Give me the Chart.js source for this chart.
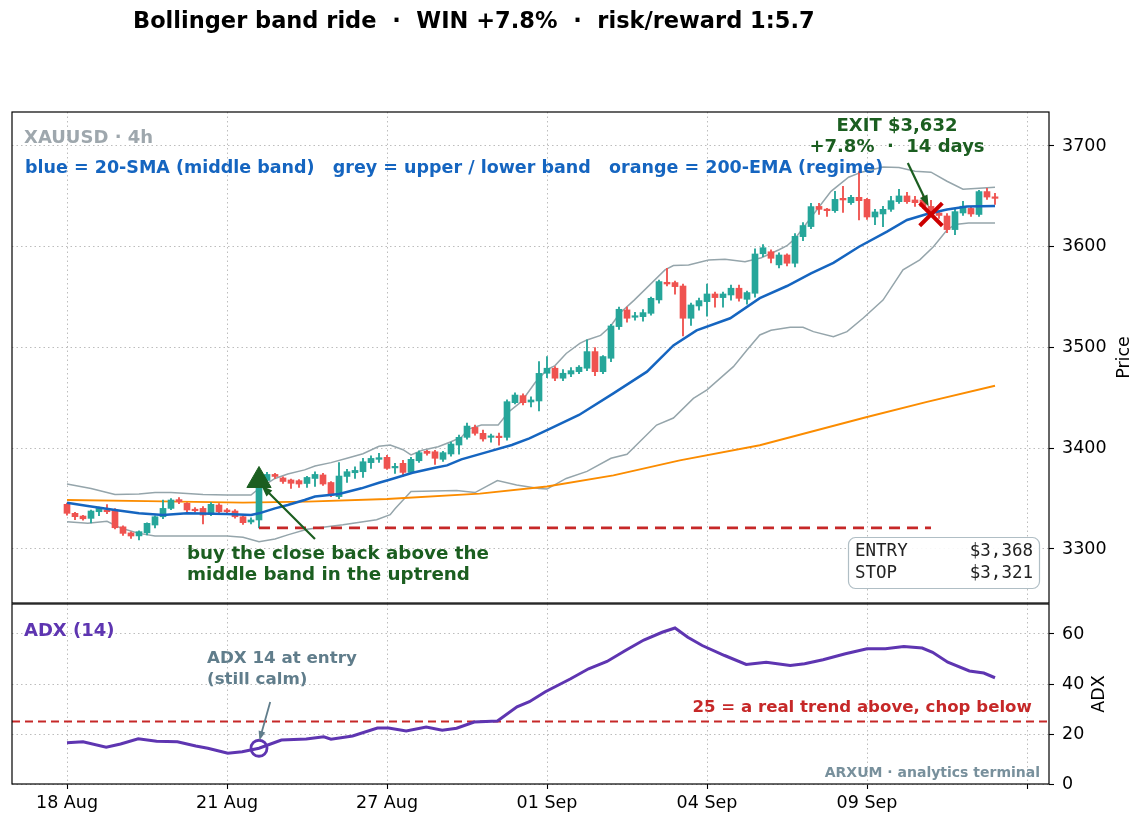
<!DOCTYPE html>
<html>
<head>
<meta charset="utf-8">
<title>Bollinger band ride</title>
<script src="https://cdn.jsdelivr.net/npm/chart.js@4.4.1/dist/chart.umd.min.js"></script>
<style>
  body { margin: 0; background: #fff; }
  #wrap { position: relative; width: 1144px; height: 826px; }
  #price { position: absolute; left: 0; top: 0; }
  #adx { position: absolute; left: 0; top: 600px; }
</style>
</head>
<body>
<div id="wrap">
  <canvas id="price" width="1144" height="604"></canvas>
  <canvas id="adx" width="1144" height="226"></canvas>
</div>
<script>
// 4h candles, index 0 = first bar on 18 Aug
const opens = [3344.3,3335.4,3332.7,3330.4,3337,3338.7,3338.7,3322,3316,3313,3316,3323.8,3332,3340.3,3349,3345.3,3339.3,3340.3,3334.4,3343.6,
  3338.7,3337.7,3332,3326.8,3328.8,3368,3374,3370.5,3368.5,3367.8,3365,3370,3373.5,3366,3352,3372,3375.7,3376.7,3385.7,3389,
  3391,3380.5,3385,3376,3387.6,3396.9,3396.5,3389,3394.3,3403.2,3410.8,3420.7,3414.8,3410.8,3411.5,3410.8,3445.2,3452.2,3445.9,3446.9,
  3474.4,3479.4,3469.5,3473.7,3476,3479.4,3495.9,3476,3489.3,3520.7,3537.3,3530,3530.6,3533.9,3547.2,3564.7,3564.4,3561,3529,3541.2,
  3545.5,3553.1,3549.5,3552.1,3558.8,3547.8,3553.8,3593,3595,3582,3591.8,3583.6,3610,3620,3640,3637.1,3635.8,3648,3643.7,3649,
  3647,3629.5,3632.5,3637.1,3644.7,3650.4,3646.4,3646.4,3640,3633.5,3630.5,3617,3633.5,3638,3632,3654.7,3649.5];
const highs = [3345.5,3336.5,3333.5,3338.5,3341.5,3344,3340,3323,3317,3318,3326,3333,3348.6,3350,3351,3346,3341,3342,3346,3345,
  3340,3339,3333,3331,3370,3376,3375,3371.5,3369.5,3369,3372,3376.7,3375,3367,3385.7,3379,3381.5,3390,3392.5,3395,
  3393,3385,3388,3391,3397.5,3398,3398,3397,3406,3413,3425,3423,3418,3414,3415,3448,3455,3454,3451,3486,
  3491,3481,3478,3480,3482,3507.5,3500,3492,3523,3540,3540,3535,3537.5,3550,3567,3578.6,3566,3563,3544,3549,
  3563,3555,3555,3562,3562,3556,3598,3602,3597,3594,3593,3613,3624,3643,3643,3638,3655,3660,3651,3674.5,
  3648,3637,3640,3650,3657,3654,3650,3652,3646,3635,3633,3637,3645,3640,3656,3658,3653];
const lows = [3333.5,3329,3328.5,3326,3333,3335,3320,3313.5,3310.5,3309,3314,3321,3330,3339,3345,3337,3336.5,3324.8,3333,3335.5,
  3336,3330.5,3324.5,3325,3321,3366,3370,3365,3360,3361,3361,3362,3363,3352,3350,3366,3370,3371,3380,3386,
  3379,3375,3372,3375,3386,3393,3384,3387,3392,3394,3409,3413,3407,3406,3403,3408,3444,3443,3441,3437,
  3470,3467,3467,3471,3474,3477,3472,3474,3486,3518,3525,3527,3526,3532,3544,3561,3553,3511.5,3522,3537,
  3531,3540,3540,3547,3546,3543,3550,3590,3584,3579,3581,3580,3606,3618,3632,3630,3634,3634,3642,3626.5,
  3627,3622,3620,3635,3643,3643,3640,3638,3630,3628,3614,3612,3631,3630,3630,3647,3642];
const closes = [3335.4,3332.1,3330,3337.7,3340.3,3337,3321.1,3315.5,3312.9,3317.2,3325.5,3332,3340.3,3348.6,3346.9,3338.7,3338,3333.7,3344.3,3337,
  3337,3332,3326.1,3328.8,3368,3374,3372,3367,3365.2,3364.5,3371,3374,3364.5,3353.6,3372.4,3376.7,3378,3386.6,3389.9,3390.6,
  3380,3382,3376,3389,3395.6,3394.9,3390,3395.6,3404.2,3410.8,3422,3414.8,3409.2,3412,3410.5,3446.2,3452.8,3445.2,3447.9,3474.3,
  3479.4,3469.5,3474.4,3477,3480.4,3495.9,3476,3491,3521.4,3537.9,3529,3531.3,3534.6,3548.8,3565.4,3563,3560.4,3529,3542.2,3546.5,
  3553.1,3549.5,3553.1,3558.8,3548.8,3554.5,3592.8,3599,3588.5,3591.8,3583.6,3610.3,3621,3639.8,3637.1,3635.8,3647,3646.4,3649,3645.7,
  3629.5,3634.5,3637.1,3645.7,3650.4,3644.7,3643.7,3640,3632,3631,3617,3634.8,3640.2,3632.5,3654.7,3649.3,3648];

// indicator lines as [bar index, value]
const upperBand = [[0,3364.5],[3,3360],[6,3354],[9,3354.6],[11,3356],[13,3356],[15,3355],[17,3354],[20,3353.6],[23,3353.6],[24,3360],
  [26,3370],[27.6,3374.5],[29.7,3378.5],[31,3382.4],[33,3385.7],[35,3390],[37,3394.5],[39,3402],[40.4,3403.2],[42,3398.5],[43,3393.3],
  [44.4,3398],[46.4,3401.5],[48,3406.5],[49.3,3411],[50.2,3419],[51.8,3423],[53.9,3423],[55.2,3436],[56.8,3446.2],[58.5,3465],[60,3478],
  [61,3482],[62.4,3494],[64.1,3504],[65,3507.5],[66.7,3512],[67.9,3520.6],[69.1,3533.9],[70.9,3547],[74.75,3577],[75.8,3581.3],[77.7,3581.9],
  [80.2,3586.9],[82.25,3587.5],[84.75,3585.2],[86.8,3589],[89,3597],[90,3601],[91,3608],[93,3629],[95.5,3655],[97.7,3669],[99.3,3674],
  [102,3679],[104,3678.5],[106,3675],[108,3674],[110,3665],[112,3657],[114,3658],[116,3659]];
const lowerBand = [[0,3327],[2.6,3325.5],[5,3327.5],[6.8,3320.5],[9,3315.5],[11,3313],[15,3313],[20,3313],[22,3311.6],[24,3307.3],
  [26,3310],[27.6,3314],[30,3319.5],[34.5,3324],[38.7,3329],[40.4,3334],[41,3340],[43,3357],[48.7,3358],[51,3356],[53.8,3368],
  [56.2,3363.5],[59,3360],[60,3359.5],[62.4,3370],[65,3377],[68,3390],[70,3394],[73.7,3423],[75.8,3430],[78.3,3449.5],[80,3458],
  [83.3,3481],[85,3497.5],[86.6,3512.4],[88,3517],[90.4,3520],[92,3520],[93.3,3515.7],[95.8,3510.7],[97.5,3515.7],[99.5,3529],
  [102,3547],[104.5,3577],[106.6,3587],[108.3,3600],[110,3616.6],[111,3622],[112.7,3623.5],[116,3623.5]];
const sma20 = [[0,3346],[2.6,3342.6],[6,3338.7],[9,3335.4],[12,3333.7],[15,3335.4],[20,3334.7],[23,3333.7],[24,3335.4],[26,3340.3],
  [27.6,3343.6],[29.7,3348.6],[31,3352],[34,3354.6],[36.8,3360.2],[39,3365.8],[40.2,3368.5],[43.2,3375.7],[46,3380.7],[47.5,3383],
  [49.3,3389],[52.7,3396.6],[55.6,3403.2],[57.8,3409.8],[60,3418],[64,3433],[68.3,3454.5],[72.5,3476],[75.8,3502],[78.7,3517],
  [82.9,3529],[86.6,3549],[90,3561],[93,3573.6],[95.8,3584],[99,3600],[102.5,3615],[105,3626.5],[107.5,3632.5],[110,3637],
  [112.5,3639.8],[116,3640.4]];
const ema200 = [[0,3348.6],[10,3347.5],[22,3346],[30,3347],[40,3349.6],[51.6,3355],[60,3362],[68.3,3373],[76.6,3388],[86.6,3403],
  [100,3431],[107.5,3446],[116,3462]];
const adx14 = [[0,16.5],[2,16.9],[4.9,14.7],[6.7,16],[8.9,18.1],[11.2,17.1],[13.8,16.9],[16.1,15.2],[17.6,14.3],[20.1,12.3],[21.9,12.9],
  [24,14.3],[26.8,17.6],[29.9,18],[32.1,18.9],[33,17.9],[35.7,19.2],[38.8,22.4],[40.2,22.4],[42.4,21.2],[44.9,22.8],[46.9,21.5],
  [48.7,22.3],[50.9,24.8],[53.8,25.2],[56.25,30.9],[57.8,32.9],[59.8,36.9],[62.9,42],[65.2,46.1],[67.5,49],[69.8,53.4],[72.1,57.6],
  [74.4,60.7],[76,62.4],[77.6,58.7],[79.4,55.4],[82.2,51.4],[84.9,47.8],[87.4,48.7],[90.4,47.4],[92.2,48.1],[94.5,49.7],[97.3,52.1],
  [100,54.1],[102.3,54.1],[104.6,55],[106.9,54.4],[108.2,52.7],[110.1,48.7],[112.8,45.2],[114.6,44.4],[116,42.5]];

const xTickIdx = [0, 20, 40, 60, 80, 100, 120];
const xTickLabels = ['18 Aug', '21 Aug', '27 Aug', '01 Sep', '04 Sep', '09 Sep', ''];
const priceTicks = [3300, 3400, 3500, 3600, 3700];
const adxTicks = [0, 20, 40, 60];

const entryIdx = 24, entryPrice = 3368, stopPrice = 3321;
const exitIdx = 108, exitPrice = 3632;
const entryAdx = 14.3, adxLevel = 25;

const X_MIN = -6.875, X_MAX = 122.75;
const GREEN = '#26a69a', RED = '#ef5350', DARK_GREEN = '#1b5e20', STOP_RED = '#c62828';
const FONT = '"DejaVu Sans", sans-serif';

const pts = arr => arr.map(([x, y]) => ({x, y}));
const candleColor = c => (closes[c.dataIndex] >= opens[c.dataIndex] ? GREEN : RED);

function arrow(ctx, x1, y1, x2, y2, color, width, head) {
  const ang = Math.atan2(y2 - y1, x2 - x1);
  ctx.save();
  ctx.strokeStyle = color; ctx.fillStyle = color; ctx.lineWidth = width;
  ctx.beginPath();
  ctx.moveTo(x1, y1);
  ctx.lineTo(x2 - Math.cos(ang) * head * 0.8, y2 - Math.sin(ang) * head * 0.8);
  ctx.stroke();
  ctx.beginPath();
  ctx.moveTo(x2, y2);
  ctx.lineTo(x2 - head * Math.cos(ang - 0.35), y2 - head * Math.sin(ang - 0.35));
  ctx.lineTo(x2 - head * Math.cos(ang + 0.35), y2 - head * Math.sin(ang + 0.35));
  ctx.closePath();
  ctx.fill();
  ctx.restore();
}

function text(ctx, s, x, y, font, color, align) {
  ctx.save();
  ctx.font = font; ctx.fillStyle = color;
  ctx.textAlign = align || 'left'; ctx.textBaseline = 'middle';
  ctx.fillText(s, x, y);
  ctx.restore();
}

function frame(ctx, a) {
  ctx.save();
  ctx.strokeStyle = '#000'; ctx.lineWidth = 1.2;
  ctx.strokeRect(a.left, a.top, a.right - a.left, a.bottom - a.top);
  ctx.restore();
}

function vertLabel(ctx, s, x, y) {
  ctx.save();
  ctx.translate(x, y); ctx.rotate(-Math.PI / 2);
  text(ctx, s, 0, 0, '17.5px ' + FONT, '#000', 'center');
  ctx.restore();
}

const noPad = s => { s.paddingTop = 0; s.paddingBottom = 0; s.paddingLeft = 0; s.paddingRight = 0; };
const gridStyle = {color: '#b5b5b5', lineWidth: 0.9, tickColor: '#000', tickLength: 5, tickWidth: 1.1};

const priceNotes = {
  id: 'priceNotes',
  afterDraw(chart) {
    const {ctx, chartArea: a, scales: {x, y}} = chart;
    frame(ctx, a);
    text(ctx, 'Bollinger band ride  \u00b7  WIN +7.8%  \u00b7  risk/reward 1:5.7', 133, 22, 'bold 22.5px ' + FONT, '#000');
    text(ctx, 'XAUUSD \u00b7 4h', a.left + 12, a.top + 26, 'bold 18px ' + FONT, '#9ea7ad');
    text(ctx, 'blue = 20-SMA (middle band)   grey = upper / lower band   orange = 200-EMA (regime)',
      a.left + 13, a.top + 56, 'bold 17.5px ' + FONT, '#1565c0');
    // exit note
    text(ctx, 'EXIT $3,632', x.getPixelForValue(103.75), y.getPixelForValue(3719), 'bold 18px ' + FONT, DARK_GREEN, 'center');
    text(ctx, '+7.8%  \u00b7  14 days', x.getPixelForValue(103.75), y.getPixelForValue(3699), 'bold 18px ' + FONT, DARK_GREEN, 'center');
    arrow(ctx, x.getPixelForValue(105.1), y.getPixelForValue(3683), x.getPixelForValue(107.7), y.getPixelForValue(3640), DARK_GREEN, 2.2, 12);
    // entry note
    text(ctx, 'buy the close back above the', x.getPixelForValue(15), y.getPixelForValue(3295), 'bold 18.3px ' + FONT, DARK_GREEN);
    text(ctx, 'middle band in the uptrend', x.getPixelForValue(15), y.getPixelForValue(3274), 'bold 18.3px ' + FONT, DARK_GREEN);
    arrow(ctx, x.getPixelForValue(31), y.getPixelForValue(3310), x.getPixelForValue(24.3), y.getPixelForValue(3363), DARK_GREEN, 2.2, 12);
    // trade box
    ctx.save();
    ctx.beginPath();
    ctx.roundRect(848.5, 537.5, 191, 51, 7);
    ctx.fillStyle = 'rgba(255,255,255,0.9)'; ctx.fill();
    ctx.strokeStyle = '#b0bec5'; ctx.lineWidth = 1.2; ctx.stroke();
    ctx.restore();
    const mono = '17.5px "DejaVu Sans Mono", monospace';
    text(ctx, 'ENTRY', 855, 551, mono, '#222');
    text(ctx, '$3,368', 1033, 551, mono, '#222', 'right');
    text(ctx, 'STOP', 855, 573, mono, '#222');
    text(ctx, '$3,321', 1033, 573, mono, '#222', 'right');
    vertLabel(ctx, 'Price', 1124, (a.top + a.bottom) / 2);
  }
};

const adxNotes = {
  id: 'adxNotes',
  afterDraw(chart) {
    const {ctx, chartArea: a, scales: {x, y}} = chart;
    frame(ctx, a);
    text(ctx, 'ADX (14)', a.left + 12, a.top + 27, 'bold 18px ' + FONT, '#5e35b1');
    text(ctx, 'ADX 14 at entry', x.getPixelForValue(17.5), y.getPixelForValue(50), 'bold 16.7px ' + FONT, '#607d8b');
    text(ctx, '(still calm)', x.getPixelForValue(17.5), y.getPixelForValue(41.6), 'bold 16.7px ' + FONT, '#607d8b');
    arrow(ctx, x.getPixelForValue(25.4), y.getPixelForValue(32.8), x.getPixelForValue(24.05), y.getPixelForValue(17.4), '#607d8b', 1.8, 10);
    text(ctx, '25 = a real trend above, chop below', x.getPixelForValue(120.6), y.getPixelForValue(30.4), 'bold 16.6px ' + FONT, STOP_RED, 'right');
    text(ctx, 'ARXUM \u00b7 analytics terminal', a.right - 9, a.bottom - 11, 'bold 14px ' + FONT, '#78909c', 'right');
    vertLabel(ctx, 'ADX', 1099, (a.top + a.bottom) / 2);
  }
};

const xScale = (showLabels) => ({
  type: 'linear', min: X_MIN, max: X_MAX, offset: false,
  afterBuildTicks: s => { s.ticks = xTickIdx.map(v => ({value: v})); },
  afterFit: s => { s.height = showLabels ? 42 : 1; noPad(s); },
  grid: Object.assign({}, gridStyle, {offset: false, drawTicks: showLabels}),
  border: {display: false, dash: [1.5, 3]},
  ticks: {display: showLabels, padding: 4, color: '#000', font: {family: FONT, size: 17.5}, maxRotation: 0,
    callback: v => xTickLabels[xTickIdx.indexOf(v)] ?? ''}
});

const yScale = (min, max, ticks) => ({
  type: 'linear', position: 'right', min, max,
  afterBuildTicks: s => { s.ticks = ticks.map(v => ({value: v})); },
  afterFit: s => { s.width = 95; noPad(s); },
  grid: gridStyle,
  border: {display: false, dash: [1.5, 3]},
  ticks: {padding: 8, color: '#000', font: {family: FONT, size: 17.5}, callback: v => String(v)}
});

new Chart(document.getElementById('price'), {
  type: 'line',
  data: {
    datasets: [
      {type: 'scatter', data: [{x: exitIdx, y: exitPrice}], pointStyle: 'crossRot', radius: 16, borderWidth: 4,
        borderColor: '#cc0000', order: 0},
      {type: 'scatter', data: [{x: entryIdx, y: entryPrice}], pointStyle: 'triangle', radius: 14, borderWidth: 1,
        backgroundColor: DARK_GREEN, borderColor: DARK_GREEN, order: 0},
      {type: 'line', data: [{x: entryIdx, y: stopPrice}, {x: exitIdx, y: stopPrice}], borderColor: STOP_RED,
        borderWidth: 2.6, borderDash: [11, 7], pointRadius: 0, order: 1},
      {type: 'line', data: pts(sma20), borderColor: '#1565c0', borderWidth: 2.5, pointRadius: 0, order: 2},
      {type: 'bar', data: opens.map((o, i) => ({x: i, y: [o, closes[i]]})), backgroundColor: candleColor,
        barThickness: 6, minBarLength: 1.5, grouped: false, order: 3},
      {type: 'bar', data: lows.map((l, i) => ({x: i, y: [l, highs[i]]})), backgroundColor: candleColor,
        barThickness: 1.2, grouped: false, order: 4},
      {type: 'line', data: pts(ema200), borderColor: '#fb8c00', borderWidth: 1.9, pointRadius: 0, order: 5},
      {type: 'line', data: pts(upperBand), borderColor: '#95a5ab', borderWidth: 1.5, pointRadius: 0, order: 6},
      {type: 'line', data: pts(lowerBand), borderColor: '#95a5ab', borderWidth: 1.5, pointRadius: 0, order: 6}
    ]
  },
  options: {
    responsive: false, animation: false, devicePixelRatio: 1,
    layout: {autoPadding: false, padding: {left: 12, top: 112, right: 0, bottom: 0}},
    plugins: {legend: {display: false}, tooltip: {enabled: false}},
    scales: {x: xScale(false), y: yScale(3246.4, 3733.7, priceTicks)}
  },
  plugins: [priceNotes]
});

new Chart(document.getElementById('adx'), {
  type: 'line',
  data: {
    datasets: [
      {type: 'scatter', data: [{x: entryIdx, y: entryAdx}], pointStyle: 'circle', radius: 8, borderWidth: 2.8,
        borderColor: '#5e35b1', backgroundColor: 'rgba(0,0,0,0)', order: 0},
      {data: pts(adx14), borderColor: '#5e35b1', borderWidth: 3, pointRadius: 0, order: 1},
      {data: [{x: X_MIN, y: adxLevel}, {x: X_MAX, y: adxLevel}], borderColor: STOP_RED, borderWidth: 1.8,
        borderDash: [8, 5], pointRadius: 0, order: 2}
    ]
  },
  options: {
    responsive: false, animation: false, devicePixelRatio: 1,
    layout: {autoPadding: false, padding: {left: 12, top: 4, right: 0, bottom: 0}},
    plugins: {legend: {display: false}, tooltip: {enabled: false}},
    scales: {x: xScale(true), y: yScale(0, 72, adxTicks)}
  },
  plugins: [adxNotes]
});
</script>
</body>
</html>
